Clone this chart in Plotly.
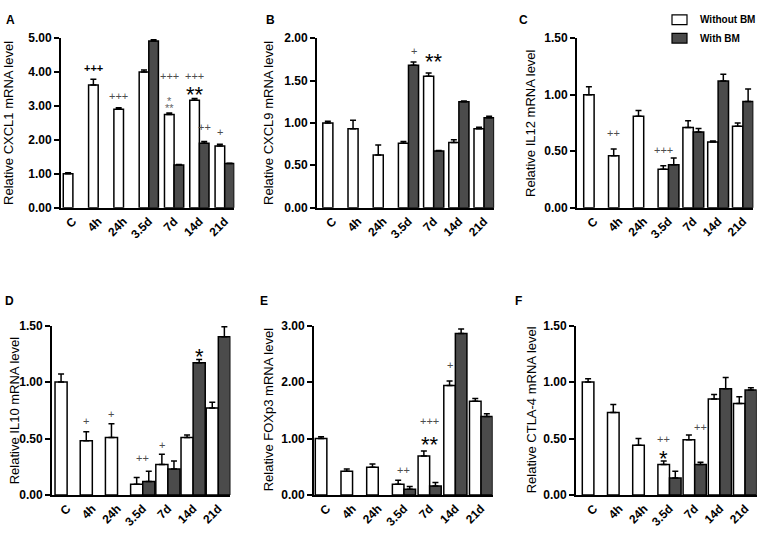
import plotly.graph_objects as go

categories = ["C", "4h", "24h", "3.5d", "7d", "14d", "21d"]

# Panel A: CXCL1
cxcl1_without = [1.00, 3.62, 2.90, 4.00, 2.75, 3.17, 1.82]
cxcl1_without_err = [0.03, 0.17, 0.05, 0.06, 0.04, 0.05, 0.05]
cxcl1_with = [None, None, None, 4.92, 1.26, 1.90, 1.30]
cxcl1_with_err = [None, None, None, 0.03, 0.01, 0.05, 0.01]

# Panel B: CXCL9
cxcl9_without = [1.00, 0.93, 0.62, 0.76, 1.55, 0.77, 0.93]
cxcl9_without_err = [0.02, 0.10, 0.12, 0.02, 0.04, 0.03, 0.02]
cxcl9_with = [None, None, None, 1.68, 0.67, 1.25, 1.06]
cxcl9_with_err = [None, None, None, 0.04, 0.005, 0.01, 0.02]

# Panel C: IL12
il12_without = [1.00, 0.46, 0.81, 0.34, 0.71, 0.58, 0.72]
il12_without_err = [0.07, 0.06, 0.05, 0.03, 0.06, 0.01, 0.03]
il12_with = [None, None, None, 0.38, 0.67, 1.12, 0.94]
il12_with_err = [None, None, None, 0.06, 0.03, 0.06, 0.11]

# Panel D: IL10
il10_without = [1.00, 0.48, 0.51, 0.095, 0.27, 0.51, 0.77]
il10_without_err = [0.07, 0.08, 0.12, 0.06, 0.09, 0.02, 0.05]
il10_with = [None, None, None, 0.12, 0.23, 1.17, 1.40]
il10_with_err = [None, None, None, 0.09, 0.07, 0.03, 0.09]

# Panel E: FOXp3
foxp3_without = [1.00, 0.42, 0.49, 0.19, 0.69, 1.94, 1.66]
foxp3_without_err = [0.03, 0.04, 0.06, 0.07, 0.09, 0.08, 0.05]
foxp3_with = [None, None, None, 0.10, 0.16, 2.86, 1.39]
foxp3_with_err = [None, None, None, 0.05, 0.06, 0.08, 0.05]

# Panel F: CTLA-4
ctla4_without = [1.00, 0.73, 0.44, 0.27, 0.49, 0.85, 0.81]
ctla4_without_err = [0.03, 0.07, 0.06, 0.03, 0.04, 0.04, 0.06]
ctla4_with = [None, None, None, 0.15, 0.27, 0.94, 0.93]
ctla4_with_err = [None, None, None, 0.06, 0.02, 0.10, 0.02]

series_names = ["Without BM", "With BM"]

# significance marks: (category, bar: w/d/c, text, level, style)
marks_a = [("4h", "w", "+++", 4.11, "pb"), ("24h", "w", "+++", 3.30, "p"),
           ("3.5d", "w", "+++", 5.17, "p"), ("7d", "w", "+++", 3.88, "p"),
           ("7d", "w", "*", 3.24, "sg"), ("7d", "w", "**", 3.02, "sg"),
           ("14d", "w", "+++", 3.88, "p"), ("14d", "w", "**", 3.53, "s"),
           ("14d", "d", "++", 2.39, "p"), ("21d", "w", "+", 2.24, "p")]
marks_b = [("3.5d", "d", "+", 1.85, "p"), ("7d", "c", "**", 1.79, "s")]
marks_c = [("4h", "w", "++", 0.66, "p"), ("3.5d", "w", "+++", 0.51, "p")]
marks_d = [("4h", "w", "+", 0.655, "p"), ("24h", "w", "+", 0.715, "p"),
           ("3.5d", "c", "++", 0.33, "p"), ("7d", "w", "+", 0.44, "p"),
           ("14d", "d", "*", 1.28, "s")]
marks_e = [("3.5d", "c", "++", 0.45, "p"), ("7d", "c", "+++", 1.31, "p"),
           ("7d", "c", "**", 1.00, "s"), ("14d", "w", "+", 2.31, "p"),
           ("14d", "d", "++", 3.03, "pb"), ("14d", "d", "**", 3.17, "s")]
marks_f = [("3.5d", "w", "++", 0.50, "p"), ("3.5d", "w", "*", 0.38, "s"),
           ("7d", "d", "++", 0.60, "p")]

W, H = 762, 540
FONT = "Liberation Sans, Arial, sans-serif"
DARK = "#4b4b4b"


def px_x(x):
    return x / W


def px_y(y):
    return 1 - y / H


panels = [
    dict(letter="A", title="Relative CXCL1 mRNA level", w=cxcl1_without, we=cxcl1_without_err,
         d=cxcl1_with, de=cxcl1_with_err, marks=marks_a, ymax=5, dtick=1,
         axis_px=61, spacing=25.3, pad=0.47, bw=0.38, row=0, title_x=9, letter_x=10),
    dict(letter="B", title="Relative CXCL9 mRNA level", w=cxcl9_without, we=cxcl9_without_err,
         d=cxcl9_with, de=cxcl9_with_err, marks=marks_b, ymax=2, dtick=0.5,
         axis_px=317, spacing=25.2, pad=0.63, bw=0.40, row=0, title_x=269, letter_x=270),
    dict(letter="C", title="Relative IL12 mRNA level", w=il12_without, we=il12_without_err,
         d=il12_with, de=il12_with_err, marks=marks_c, ymax=1.5, dtick=0.5,
         axis_px=577, spacing=24.8, pad=0.69, bw=0.42, row=0, title_x=531, letter_x=523),
    dict(letter="D", title="Relative IL10 mRNA level", w=il10_without, we=il10_without_err,
         d=il10_with, de=il10_with_err, marks=marks_d, ymax=1.5, dtick=0.5,
         axis_px=52, spacing=25.2, pad=0.60, bw=0.48, row=1, title_x=14, letter_x=9),
    dict(letter="E", title="Relative FOXp3 mRNA level", w=foxp3_without, we=foxp3_without_err,
         d=foxp3_with, de=foxp3_with_err, marks=marks_e, ymax=3, dtick=1,
         axis_px=314, spacing=25.7, pad=0.50, bw=0.45, row=1, title_x=268, letter_x=264),
    dict(letter="F", title="Relative CTLA-4 mRNA level", w=ctla4_without, we=ctla4_without_err,
         d=ctla4_with, de=ctla4_with_err, marks=marks_f, ymax=1.5, dtick=0.5,
         axis_px=576, spacing=25.2, pad=0.71, bw=0.46, row=1, title_x=531, letter_x=518),
]
rows = [dict(top=32, zero=206, letter_y=13), dict(top=327, zero=501, letter_y=302)]

fig = go.Figure()
annotations = []
shapes = []
layout = {}

for i, p in enumerate(panels):
    n = "" if i == 0 else str(i + 1)
    xa, ya = "x" + n, "y" + n
    r = rows[p["row"]]
    bw = p["bw"]
    x0 = p["axis_px"]
    x1 = x0 + (p["pad"] + 6 + bw) * p["spacing"]
    fig.add_trace(go.Bar(
        x=categories, y=p["w"], name=series_names[0], xaxis=xa, yaxis=ya,
        width=bw, offset=-bw, marker=dict(color="white", line=dict(color="black", width=1.5)),
        error_y=dict(type="data", array=p["we"], arrayminus=[0] * 7, symmetric=False,
                     color="black", thickness=1.5, width=3),
        showlegend=False))
    fig.add_trace(go.Bar(
        x=categories, y=p["d"], name=series_names[1], xaxis=xa, yaxis=ya,
        width=bw, offset=0, marker=dict(color=DARK, line=dict(color="black", width=1.5)),
        error_y=dict(type="data", array=p["de"], arrayminus=[0] * 7, symmetric=False,
                     color="black", thickness=1.5, width=3),
        showlegend=False))
    layout["xaxis" + n] = dict(
        domain=[px_x(x0), px_x(x1)], anchor=ya, type="category", categoryorder="array",
        categoryarray=categories, range=[-p["pad"], 6 + bw], showline=True, linecolor="black",
        linewidth=2, ticks="", tickangle=-45, showgrid=False, zeroline=False,
        tickfont=dict(family=FONT, size=12, color="black", weight="bold"))
    layout["yaxis" + n] = dict(
        domain=[px_y(r["zero"]), px_y(r["top"])], anchor=xa, range=[0, p["ymax"]],
        dtick=p["dtick"], tick0=0, tickformat=".2f", showline=True, linecolor="black",
        linewidth=2, ticks="outside", ticklen=5, tickwidth=1.5, tickcolor="black",
        showgrid=False, zeroline=False,
        tickfont=dict(family=FONT, size=12, color="black", weight="bold"))
    annotations.append(dict(xref="paper", yref="paper", x=px_x(p["title_x"]),
                            y=px_y((r["top"] + r["zero"]) / 2), text=p["title"], textangle=-90,
                            showarrow=False, xanchor="center", yanchor="middle",
                            font=dict(family=FONT, size=13, color="black")))
    annotations.append(dict(xref="paper", yref="paper", x=px_x(p["letter_x"]), y=px_y(r["letter_y"]),
                            text="<b>" + p["letter"] + "</b>", showarrow=False,
                            xanchor="center", yanchor="middle",
                            font=dict(family=FONT, size=12, color="black")))
    for cat, which, txt, lvl, style in p["marks"]:
        idx = categories.index(cat)
        off = {"w": -bw / 2, "d": bw / 2, "c": 0}[which]
        if style == "p":
            font = dict(family=FONT, size=11, color="#4d4d4d")
            ys = 0
        elif style == "pb":
            font = dict(family=FONT, size=11, color="black", weight="bold")
            ys = 0
        elif style == "sg":
            font = dict(family=FONT, size=11, color="#666666")
            ys = -3
        else:
            font = dict(family=FONT, size=22, color="black")
            ys = -6
        annotations.append(dict(xref=xa, yref=ya, x=idx + off, y=lvl, text=txt, showarrow=False,
                                xanchor="center", yanchor="middle", yshift=ys, font=font))

# legend (drawn as boxes + labels at the top right)
legend_fill = ["white", DARK]
legend_rows = [13, 32]
for name, fill, ly in zip(series_names, legend_fill, legend_rows):
    shapes.append(dict(type="rect", xref="paper", yref="paper",
                       x0=px_x(672), x1=px_x(687), y0=px_y(ly + 5), y1=px_y(ly - 5),
                       fillcolor=fill, line=dict(color="black", width=1.2)))
    annotations.append(dict(xref="paper", yref="paper", x=px_x(698), y=px_y(ly), text=name,
                            showarrow=False, xanchor="left", yanchor="middle",
                            font=dict(family=FONT, size=10, color="black", weight="bold")))

fig.update_layout(
    width=W, height=H, margin=dict(l=0, r=0, t=0, b=0),
    paper_bgcolor="white", plot_bgcolor="white", barmode="overlay",
    annotations=annotations, shapes=shapes, showlegend=False, hovermode=False,
    **layout)

# remove the browser's default page margin so the figure sits at the window corner
fig.write_html("out.html", config={"displayModeBar": False},
               post_script="document.body.style.margin='0';")
